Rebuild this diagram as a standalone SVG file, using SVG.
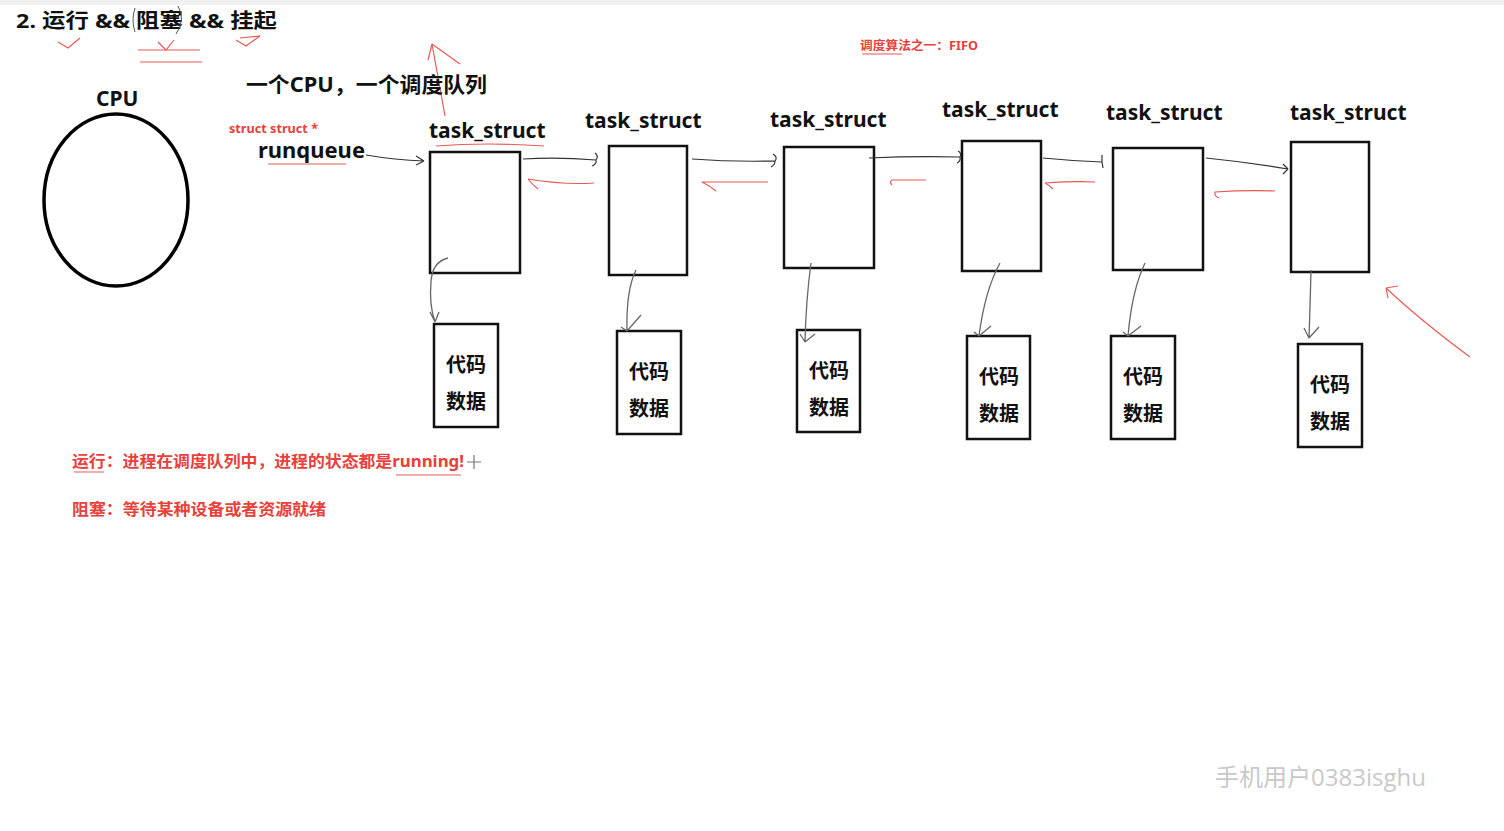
<svg xmlns="http://www.w3.org/2000/svg" width="1504" height="831" viewBox="0 0 1504 831">
<style>
.t{font-family:"Noto Sans","Noto Sans CJK SC",sans-serif;font-weight:bold;fill:#111}
.r{font-family:"Noto Sans","Noto Sans CJK SC",sans-serif;font-weight:bold;fill:#e8403a}
.box{fill:#fff;stroke:#111;stroke-width:2.5}
.cpu{fill:none;stroke:#000;stroke-width:3.5}
.fw{fill:none;stroke:#333;stroke-width:1.2}
.dn{fill:none;stroke:#666;stroke-width:1.3}
.rd{fill:none;stroke:#e85a55;stroke-width:1.2}
.wm{font-family:"Open Sans","Noto Sans CJK SC",sans-serif;fill:#c9c9c9}
</style>
<rect width="1504" height="831" fill="#fff"/>
<rect x="0" y="0" width="1504" height="5" fill="#f1f1f1"/>

<text class="t" x="16" y="28" font-size="20" textLength="261" lengthAdjust="spacingAndGlyphs">2. 运行 &amp;&amp; 阻塞 &amp;&amp; 挂起</text>
<g id="annotations-red">
<path d="M135 8 q-4 12 0 24 M178 6 q8 14 -2 28" fill="none" stroke="#555" stroke-width="1"/>
<path class="rd" d="M58 42 l10 6 l12 -10 M138 50 h62 M158 42 l8 8 l8 -10 M140 62 h62 M236 40 l10 6 l14 -10 M240 38 l20 -2"/>
<path class="rd" d="M445 116 L432 44 M432 44 l-4 16 M432 44 l28 20"/>
<path class="rd" d="M1470 357 Q1420 320 1386 288 M1386 288 l2 10 M1386 288 l12 -2"/>
<path class="rd" d="M436 146 q50 -4 108 0"/>
<path class="rd" d="M268 164 h78"/>
<path class="rd" d="M862 54 h40"/>
<path class="rd" d="M74 472 h30 M396 475 h65"/>
</g>

<g id="cpu">
<text class="t" x="96" y="106" font-size="21">CPU</text>
<ellipse class="cpu" cx="116" cy="200" rx="72" ry="86"/>
</g>

<text class="t" x="246" y="92" font-size="21" textLength="241" lengthAdjust="spacingAndGlyphs">一个CPU，一个调度队列</text>
<text class="r" x="229" y="133" font-size="12" textLength="89" lengthAdjust="spacingAndGlyphs">struct struct *</text>
<text class="t" x="258" y="158" font-size="21" textLength="107" lengthAdjust="spacingAndGlyphs">runqueue</text>
<text class="r" x="860" y="50" font-size="12" textLength="118" lengthAdjust="spacingAndGlyphs">调度算法之一：FIFO</text>

<g id="task1"><text class="t" x="429" y="138" font-size="21">task_struct</text><rect class="box" x="430" y="152" width="90" height="121"/></g>
<g id="task2"><text class="t" x="585" y="128" font-size="21">task_struct</text><rect class="box" x="609" y="146" width="78" height="129"/></g>
<g id="task3"><text class="t" x="770" y="127" font-size="21">task_struct</text><rect class="box" x="784" y="147" width="90" height="121"/></g>
<g id="task4"><text class="t" x="942" y="117" font-size="21">task_struct</text><rect class="box" x="962" y="141" width="79" height="130"/></g>
<g id="task5"><text class="t" x="1106" y="120" font-size="21">task_struct</text><rect class="box" x="1113" y="148" width="90" height="122"/></g>
<g id="task6"><text class="t" x="1290" y="120" font-size="21">task_struct</text><rect class="box" x="1291" y="142" width="78" height="130"/></g>

<g id="data1"><rect class="box" x="434" y="324" width="64" height="103"/><text class="t" x="466" y="372" font-size="20" text-anchor="middle">代码</text><text class="t" x="466" y="409" font-size="20" text-anchor="middle">数据</text></g>
<g id="data2"><rect class="box" x="617" y="331" width="64" height="103"/><text class="t" x="649" y="379" font-size="20" text-anchor="middle">代码</text><text class="t" x="649" y="416" font-size="20" text-anchor="middle">数据</text></g>
<g id="data3"><rect class="box" x="797" y="330" width="63" height="102"/><text class="t" x="829" y="378" font-size="20" text-anchor="middle">代码</text><text class="t" x="829" y="415" font-size="20" text-anchor="middle">数据</text></g>
<g id="data4"><rect class="box" x="967" y="336" width="63" height="103"/><text class="t" x="999" y="384" font-size="20" text-anchor="middle">代码</text><text class="t" x="999" y="421" font-size="20" text-anchor="middle">数据</text></g>
<g id="data5"><rect class="box" x="1111" y="336" width="64" height="103"/><text class="t" x="1143" y="384" font-size="20" text-anchor="middle">代码</text><text class="t" x="1143" y="421" font-size="20" text-anchor="middle">数据</text></g>
<g id="data6"><rect class="box" x="1298" y="344" width="64" height="103"/><text class="t" x="1330" y="392" font-size="20" text-anchor="middle">代码</text><text class="t" x="1330" y="429" font-size="20" text-anchor="middle">数据</text></g>

<g id="connectors">
<path class="fw" d="M366 155 Q395 160 424 161 M424 161 l-8 -5 M424 161 l-8 4"/>
<path class="fw" d="M523 159 q35 -2 73 1 M596 160 q3 -4 -1 -7 M596 160 q1 4 -4 6"/>
<path class="fw" d="M692 159 q40 3 83 2 M775 161 q3 -4 -2 -7 M775 161 q0 4 -4 6"/>
<path class="fw" d="M869 158 q45 -2 91 -1 M960 157 q2 -4 -2 -6 M960 157 q1 4 -3 6"/>
<path class="fw" d="M1043 158 q30 3 59 4 M1102 162 v-7 M1102 162 l1 6"/>
<path class="fw" d="M1206 158 q40 4 82 11 M1288 169 l-5 -5 M1288 169 l-5 5"/>

<path class="rd" d="M594 183 q-30 2 -66 -4 M528 179 q4 5 10 10"/>
<path class="rd" d="M768 182 h-66 M702 182 q8 4 14 9"/>
<path class="rd" d="M926 180 h-34 q-3 2 0 5"/>
<path class="rd" d="M1095 182 q-20 -1 -50 1 M1045 183 q4 2 8 6"/>
<path class="rd" d="M1275 191 q-30 -1 -60 1 q-1 4 4 6"/>

<path class="dn" d="M448 258 Q432 262 431 282 Q429 305 435 322 M435 322 l-5 -10 M435 322 l4 -10"/>
<path class="dn" d="M636 270 Q626 290 627 331 M627 331 l-6 -4 M627 331 l14 -16"/>
<path class="dn" d="M811 263 Q806 300 805 342 M805 342 l-5 -8 M805 342 l10 -8"/>
<path class="dn" d="M1000 263 Q985 290 979 336 M979 336 l-5 -4 M979 336 l12 -10"/>
<path class="dn" d="M1145 263 Q1132 290 1128 336 M1128 336 l-5 -4 M1128 336 l13 -10"/>
<path class="dn" d="M1311 270 Q1310 310 1309 338 M1309 338 l-5 -10 M1309 338 l10 -11"/>
</g>

<text class="r" x="72" y="467" font-size="16" textLength="392" lengthAdjust="spacingAndGlyphs">运行：进程在调度队列中，进程的状态都是running!</text>
<path d="M467 462 h14 M474 455 v14" stroke="#777" stroke-width="1.2" fill="none"/>
<text class="r" x="72" y="515" font-size="16" textLength="254" lengthAdjust="spacingAndGlyphs">阻塞：等待某种设备或者资源就绪</text>

<text class="wm" x="1215" y="786" font-size="24">手机用户0383isghu</text>
</svg>
